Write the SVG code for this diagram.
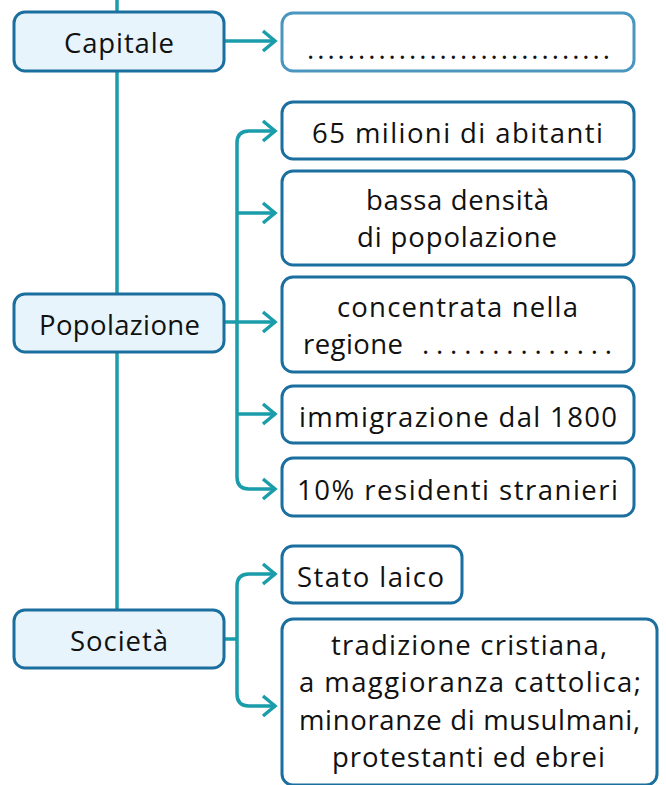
<svg xmlns="http://www.w3.org/2000/svg" width="666" height="785" viewBox="0 0 666 785">
<defs>
<style>
.main{fill:#e8f4fb;stroke:#1b6f9e;stroke-width:3}
.leaf{fill:#ffffff;stroke:#1b6f9e;stroke-width:3}
.blank{fill:#ffffff;stroke:#4a96bf;stroke-width:3}
.t{font-family:"Open Sans","Noto Sans","DejaVu Sans",sans-serif;font-size:27.5px;fill:#111111;text-anchor:middle}
.s{text-anchor:start}
.c{fill:none;stroke:#1a9caa;stroke-width:3.5}
</style>
<marker id="ah" markerUnits="userSpaceOnUse" markerWidth="20" markerHeight="26" viewBox="-16 -13 20 26" refX="0" refY="0" orient="auto">
<path d="M-12,-10 L0,0 L-12,10" fill="none" stroke="#1a9caa" stroke-width="3.5"/>
</marker>
</defs>
<rect width="666" height="785" fill="#ffffff"/>
<g id="connectors">
<path class="c" d="M117,0 V610"/>
<path class="c" d="M224,41 H275" marker-end="url(#ah)"/>
<path class="c" d="M237,322 V143 Q237,131 249,131 H275" marker-end="url(#ah)"/>
<path class="c" d="M237,213 H275" marker-end="url(#ah)"/>
<path class="c" d="M224,322 H275" marker-end="url(#ah)"/>
<path class="c" d="M237,414 H275" marker-end="url(#ah)"/>
<path class="c" d="M237,322 V477 Q237,489 249,489 H275" marker-end="url(#ah)"/>
<path class="c" d="M224,639 H237"/>
<path class="c" d="M237,639 V586 Q237,574 249,574 H275" marker-end="url(#ah)"/>
<path class="c" d="M237,639 V694 Q237,706 249,706 H275" marker-end="url(#ah)"/>
</g>
<g id="capitale">
<rect class="main" x="14" y="12" width="210" height="59" rx="11"/>
<text class="t" x="119" y="53" textLength="110" lengthAdjust="spacing">Capitale</text>
</g>
<g id="capitale-risposta">
<rect class="blank" x="282" y="13" width="352" height="58" rx="11"/>
<text class="t s" x="307" y="59" textLength="303" lengthAdjust="spacing">..............................</text>
</g>
<g id="popolazione">
<rect class="main" x="14" y="294" width="210" height="58" rx="11"/>
<text class="t" x="119.5" y="335" textLength="161" lengthAdjust="spacing">Popolazione</text>
</g>
<g id="abitanti">
<rect class="leaf" x="282" y="102" width="352" height="57" rx="11"/>
<text class="t" x="457.5" y="143" textLength="291" lengthAdjust="spacing">65 milioni di abitanti</text>
</g>
<g id="densita">
<rect class="leaf" x="282" y="171" width="352" height="94" rx="11"/>
<text class="t" x="457.5" y="210" textLength="183" lengthAdjust="spacing">bassa densità</text>
<text class="t" x="457" y="247" textLength="200" lengthAdjust="spacing">di popolazione</text>
</g>
<g id="concentrata">
<rect class="leaf" x="282" y="277" width="352" height="95" rx="11"/>
<text class="t" x="457.5" y="317" textLength="241" lengthAdjust="spacing">concentrata nella</text>
<text class="t s" x="303" y="354"><tspan textLength="100" lengthAdjust="spacing">regione</tspan><tspan x="422" textLength="190" lengthAdjust="spacing">..............</tspan></text>
</g>
<g id="immigrazione">
<rect class="leaf" x="282" y="386" width="352" height="57" rx="11"/>
<text class="t" x="458" y="427" textLength="318" lengthAdjust="spacing">immigrazione dal 1800</text>
</g>
<g id="stranieri">
<rect class="leaf" x="282" y="458" width="352" height="58" rx="11"/>
<text class="t" x="457.5" y="500" textLength="321" lengthAdjust="spacing">10% residenti stranieri</text>
</g>
<g id="societa">
<rect class="main" x="14" y="610" width="210" height="58" rx="11"/>
<text class="t" x="119" y="651" textLength="98" lengthAdjust="spacing">Società</text>
</g>
<g id="stato-laico">
<rect class="leaf" x="282" y="546" width="180" height="57" rx="11"/>
<text class="t" x="370.5" y="587" textLength="147" lengthAdjust="spacing">Stato laico</text>
</g>
<g id="religione">
<rect class="leaf" x="282" y="619" width="375" height="166" rx="11"/>
<text class="t" x="469" y="655" textLength="276" lengthAdjust="spacing">tradizione cristiana,</text>
<text class="t" x="470" y="692" textLength="342" lengthAdjust="spacing">a maggioranza cattolica;</text>
<text class="t" x="469.5" y="730" textLength="341" lengthAdjust="spacing">minoranze di musulmani,</text>
<text class="t" x="468.5" y="767" textLength="273" lengthAdjust="spacing">protestanti ed ebrei</text>
</g>
</svg>
